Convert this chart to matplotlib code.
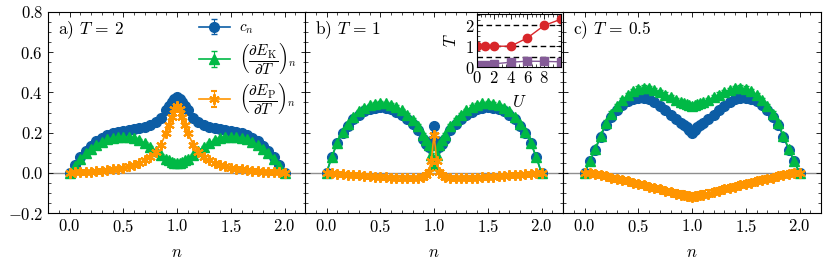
import numpy as np
import matplotlib
matplotlib.use('Agg')
import matplotlib.pyplot as plt
from matplotlib.ticker import MultipleLocator

# filling n, same grid for all three panels
n = [0.0, 0.05, 0.1, 0.15, 0.2, 0.25, 0.3, 0.35, 0.4, 0.45, 0.5, 0.55, 0.6, 0.65,
     0.7, 0.75, 0.8, 0.85, 0.9, 0.925, 0.95, 0.975, 1.0, 1.025, 1.05, 1.075, 1.1,
     1.15, 1.2, 1.25, 1.3, 1.35, 1.4, 1.45, 1.5, 1.55, 1.6, 1.65, 1.7, 1.75, 1.8,
     1.85, 1.9, 1.95, 2.0]

# a) T = 2
a_c = [0, .04, .078, .11, .135, .157, .175, .188, .198, .205, .21, .214, .218, .222,
       .228, .237, .252, .275, .31, .33, .35, .365, .375, .365, .35, .33, .31,
       .275, .252, .237, .228, .222, .218, .214, .21, .205, .198, .188, .175, .157,
       .135, .11, .078, .04, 0]
a_k = [0, .035, .07, .1, .12, .14, .155, .166, .174, .178, .18, .178, .172, .162,
       .148, .13, .11, .09, .07, .062, .055, .05, .048, .05, .055, .062, .07,
       .09, .11, .13, .148, .162, .172, .178, .18, .178, .174, .166, .155, .14,
       .12, .1, .07, .035, 0]
a_p = [0, .002, .003, .004, .006, .008, .01, .013, .017, .021, .026, .032, .04, .05,
       .063, .08, .105, .14, .2, .24, .28, .315, .33, .315, .28, .24, .2,
       .14, .105, .08, .063, .05, .04, .032, .026, .021, .017, .013, .01, .008,
       .006, .004, .003, .002, 0]

# b) T = 1
b_c = [0, .08, .15, .2, .235, .268, .29, .305, .315, .322, .325, .322, .315, .303,
       .287, .267, .243, .212, .17, .145, .13, .16, .235, .16, .13, .145, .17,
       .212, .243, .267, .287, .303, .315, .322, .325, .322, .315, .305, .29, .268,
       .235, .2, .15, .08, 0]
b_k = [0, .08, .15, .205, .245, .28, .305, .322, .335, .343, .347, .345, .338, .327,
       .31, .29, .265, .235, .19, .165, .14, .09, .04, .09, .14, .165, .19,
       .235, .265, .29, .31, .327, .338, .345, .347, .343, .335, .322, .305, .28,
       .245, .205, .15, .08, 0]
b_p = [0, -.003, -.005, -.007, -.009, -.011, -.013, -.015, -.017, -.019, -.02, -.022,
       -.024, -.025, -.026, -.027, -.028, -.027, -.02, -.01, .005, .06, .19, .06,
       .005, -.01, -.02, -.027, -.028, -.027, -.026, -.025, -.024, -.022, -.02,
       -.019, -.017, -.015, -.013, -.011, -.009, -.007, -.005, -.003, 0]

# c) T = 0.5
c_c = [0, .058, .115, .18, .24, .28, .31, .335, .355, .368, .374, .372, .365, .35,
       .333, .312, .29, .268, .248, .237, .226, .212, .2, .212, .226, .237, .248,
       .268, .29, .312, .333, .35, .365, .372, .374, .368, .355, .335, .31, .28,
       .24, .18, .115, .058, 0]
c_k = [0, .058, .12, .185, .25, .295, .33, .36, .385, .405, .418, .424, .422, .412,
       .4, .388, .375, .362, .35, .345, .34, .336, .333, .336, .34, .345, .35,
       .362, .375, .388, .4, .412, .422, .424, .418, .405, .385, .36, .33, .295,
       .25, .185, .12, .058, 0]
c_p = [0, -.003, -.008, -.013, -.018, -.024, -.03, -.036, -.043, -.05, -.056, -.062,
       -.069, -.076, -.083, -.09, -.097, -.103, -.108, -.111, -.114, -.117, -.12,
       -.117, -.114, -.111, -.108, -.103, -.097, -.09, -.083, -.076, -.069, -.062,
       -.056, -.05, -.043, -.036, -.03, -.024, -.018, -.013, -.008, -.003, 0]

errs = {'a': (0.005, 0.005, 0.005), 'b': (0.008, 0.008, 0.008), 'c': (0.012, 0.012, 0.015)}
titles = [r'a) $T\,=\,2$', r'b) $T\,=\,1$', r'c) $T\,=\,0.5$']

# inset: T(U)
u_red = [0, 1, 2, 4, 6, 8, 10]
t_red = [1.0, 1.0, 1.0, 1.0, 1.4, 2.0, 2.3]
u_pur = [0, 1, 2, 4, 6, 8, 10]
t_pur = [0.08, 0.1, 0.15, 0.23, 0.28, 0.27, 0.25]
t_dash = [2.0, 1.0, 0.5]

blue, green, orange = '#0C5DA5', '#00B945', '#FF9500'
red, purple = '#D8262A', '#845B97'

plt.rcParams.update({
    'font.family': 'serif',
    'font.serif': ['cmr10'],
    'mathtext.fontset': 'cm',
    'axes.formatter.use_mathtext': True,
    'font.size': 12,
    'axes.linewidth': 0.8,
    'xtick.direction': 'in', 'ytick.direction': 'in',
    'xtick.top': True, 'ytick.right': True,
    'xtick.major.size': 3.5, 'ytick.major.size': 3.5,
    'xtick.minor.size': 2, 'ytick.minor.size': 2,
    'xtick.major.width': 0.6, 'ytick.major.width': 0.6,
    'xtick.minor.width': 0.5, 'ytick.minor.width': 0.5,
})

fig = plt.figure(figsize=(8.26, 2.65), dpi=100)
W, H = 826, 265
lefts = [48, 305, 563]
axes = []
for i, (tag, cc, kk, pp) in enumerate([('a', a_c, a_k, a_p), ('b', b_c, b_k, b_p),
                                        ('c', c_c, c_k, c_p)]):
    ax = fig.add_axes([lefts[i] / W, (H - 213) / H, 258 / W, 201 / H])
    axes.append(ax)
    ax.axhline(0, color='#8f8f8f', lw=1.0, zorder=0)
    e1, e2, e3 = errs[tag]
    ax.errorbar(n, cc, yerr=e1, fmt='-o', color=blue, ms=7, lw=1.2, capsize=2,
                elinewidth=0.8, label='$c_n$')
    ax.errorbar(n, kk, yerr=e2, fmt='-^', color=green, ms=7.5, lw=1.2, capsize=2,
                elinewidth=0.8,
                label=r'$\left(\dfrac{\partial E_{\rm K}}{\partial T}\right)_n$')
    ax.errorbar(n, pp, yerr=e3, fmt='-', marker=(6, 2, 0), color=orange, ms=7.5,
                mew=1.5, lw=1.2, capsize=2, elinewidth=0.8,
                label=r'$\left(\dfrac{\partial E_{\rm P}}{\partial T}\right)_n$')
    ax.set_xlim(-0.2, 2.2)
    ax.set_ylim(-0.2, 0.8)
    ax.xaxis.set_major_locator(MultipleLocator(0.5))
    ax.xaxis.set_minor_locator(MultipleLocator(0.1))
    ax.yaxis.set_major_locator(MultipleLocator(0.2))
    ax.yaxis.set_minor_locator(MultipleLocator(0.05))
    ax.set_xlabel('$n$', labelpad=7)
    ax.text(0.04, 0.965, titles[i], transform=ax.transAxes, va='top', ha='left',
            fontsize=12.5)
    if i > 0:
        ax.tick_params(labelleft=False)

axes[0].legend(loc='upper right', frameon=False, fontsize=11, handlelength=2.0,
               labelspacing=0.25, borderaxespad=0.2, bbox_to_anchor=(1.0, 1.0),
               handletextpad=0.6)

# inset in panel b
ins = fig.add_axes([477 / W, (H - 67) / H, 84 / W, 53 / H])
for t in t_dash:
    ins.axhline(t, color='k', ls='--', lw=1.0, dashes=(4, 2.5))
ins.plot(u_red, t_red, '-o', color=red, ms=6, lw=1, clip_on=True)
ins.plot(u_pur, t_pur, '-s', color=purple, ms=6, lw=1, clip_on=True)
ins.set_xlim(0, 10)
ins.set_ylim(0, 2.55)
ins.set_xticks([0, 2, 4, 6, 8])
ins.set_yticks([0, 1, 2])
ins.xaxis.set_minor_locator(MultipleLocator(0.5))
ins.yaxis.set_minor_locator(MultipleLocator(0.25))
ins.tick_params(labelsize=12, pad=2)
ins.set_xlabel('$U$', labelpad=6)
ins.set_ylabel('$T$', labelpad=4)

fig.savefig('out.png', dpi=100)
